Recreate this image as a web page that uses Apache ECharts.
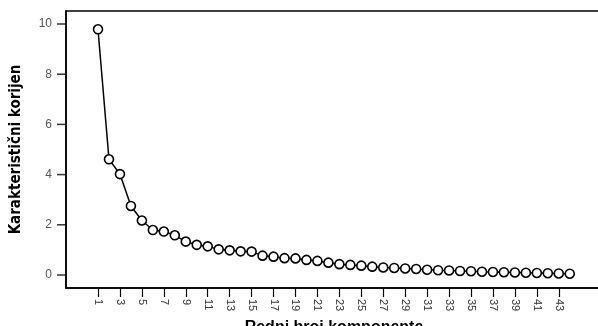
<!DOCTYPE html>
<html><head><meta charset="utf-8">
<script src="https://cdn.jsdelivr.net/npm/echarts@6/dist/echarts.min.js"></script>
<style>html,body{margin:0;padding:0;background:#fff}#c{width:598px;height:326px}</style>
</head><body><div id="c"></div>
<script>
var components = [];
for (var i = 1; i <= 44; i++) components.push(i);
var eigenvalues = [9.79,4.61,4.02,2.75,2.17,1.79,1.73,1.58,1.33,1.20,1.14,1.02,0.98,0.94,0.93,0.77,0.73,0.67,0.66,0.60,0.56,0.49,0.43,0.40,0.37,0.33,0.30,0.28,0.26,0.24,0.21,0.19,0.18,0.16,0.15,0.13,0.12,0.11,0.10,0.09,0.08,0.07,0.06,0.05];
var xTickLabels = [1,3,5,7,9,11,13,15,17,19,21,23,25,27,29,31,33,35,37,39,41,43];
var yTickLabels = [0,2,4,6,8,10];

var chart = echarts.init(document.getElementById('c'));
chart.setOption({
  animation: false,
  grid: [
    {left: 66, top: 11, right: -4, bottom: 38, outerBoundsMode: 'none', containLabel: false, show: true, borderColor: '#000', borderWidth: 1.5, backgroundColor: '#fff'},
    {left: 57, width: 9, top: 24, bottom: 51, outerBoundsMode: 'none', containLabel: false, show: false}
  ],
  xAxis: [{
    type: 'value', gridIndex: 0, min: -1.917, max: 46.94,
    name: 'Redni broj komponente', nameLocation: 'middle', nameGap: 27,
    nameTextStyle: {fontFamily: 'Liberation Sans', fontWeight: 'bold', fontSize: 16, color: '#000'},
    axisLine: {show: true, onZero: false, lineStyle: {color: '#000', width: 1.5}},
    axisTick: {show: true, length: 9, customValues: xTickLabels, lineStyle: {color: '#000', width: 1.2}},
    axisLabel: {customValues: xTickLabels, rotate: -90, color: '#333', fontSize: 11, fontFamily: 'Liberation Sans', margin: 11},
    splitLine: {show: false}
  }, {
    type: 'value', gridIndex: 1, min: 0, max: 1, show: false
  }],
  yAxis: [{
    type: 'value', gridIndex: 0, min: -0.52, max: 10.52,
    name: 'Karakteristični korijen', nameLocation: 'middle', nameGap: 42,
    nameTextStyle: {fontFamily: "'Liberation Sans Narrow', 'DejaVu Sans Condensed', 'Liberation Sans', sans-serif", fontWeight: 'bold', fontSize: 15, color: '#000'},
    axisLine: {show: true, onZero: false, lineStyle: {color: '#000', width: 1.5}},
    axisTick: {show: false},
    axisLabel: {show: false},
    splitLine: {show: false}
  }, {
    type: 'value', gridIndex: 1, min: yTickLabels[0], max: yTickLabels[yTickLabels.length - 1], interval: 2,
    axisLine: {show: false},
    axisTick: {show: false},
    axisLabel: {show: true, color: '#555', fontSize: 12, fontFamily: 'Liberation Sans', margin: 5},
    splitLine: {show: false}
  }],
  series: [{
    type: 'line', xAxisIndex: 0, yAxisIndex: 0,
    data: components.map(function (c, i) { return [c, eigenvalues[i]]; }),
    symbol: 'circle', symbolSize: 9,
    itemStyle: {color: '#fff', borderColor: '#000', borderWidth: 1.6},
    lineStyle: {color: '#000', width: 1.5}
  }, {
    type: 'scatter', xAxisIndex: 1, yAxisIndex: 1, silent: true,
    data: yTickLabels.map(function (v) { return [0.5, v]; }),
    symbol: 'rect', symbolSize: [9, 1.5],
    itemStyle: {color: '#000'}
  }]
});
</script></body></html>
